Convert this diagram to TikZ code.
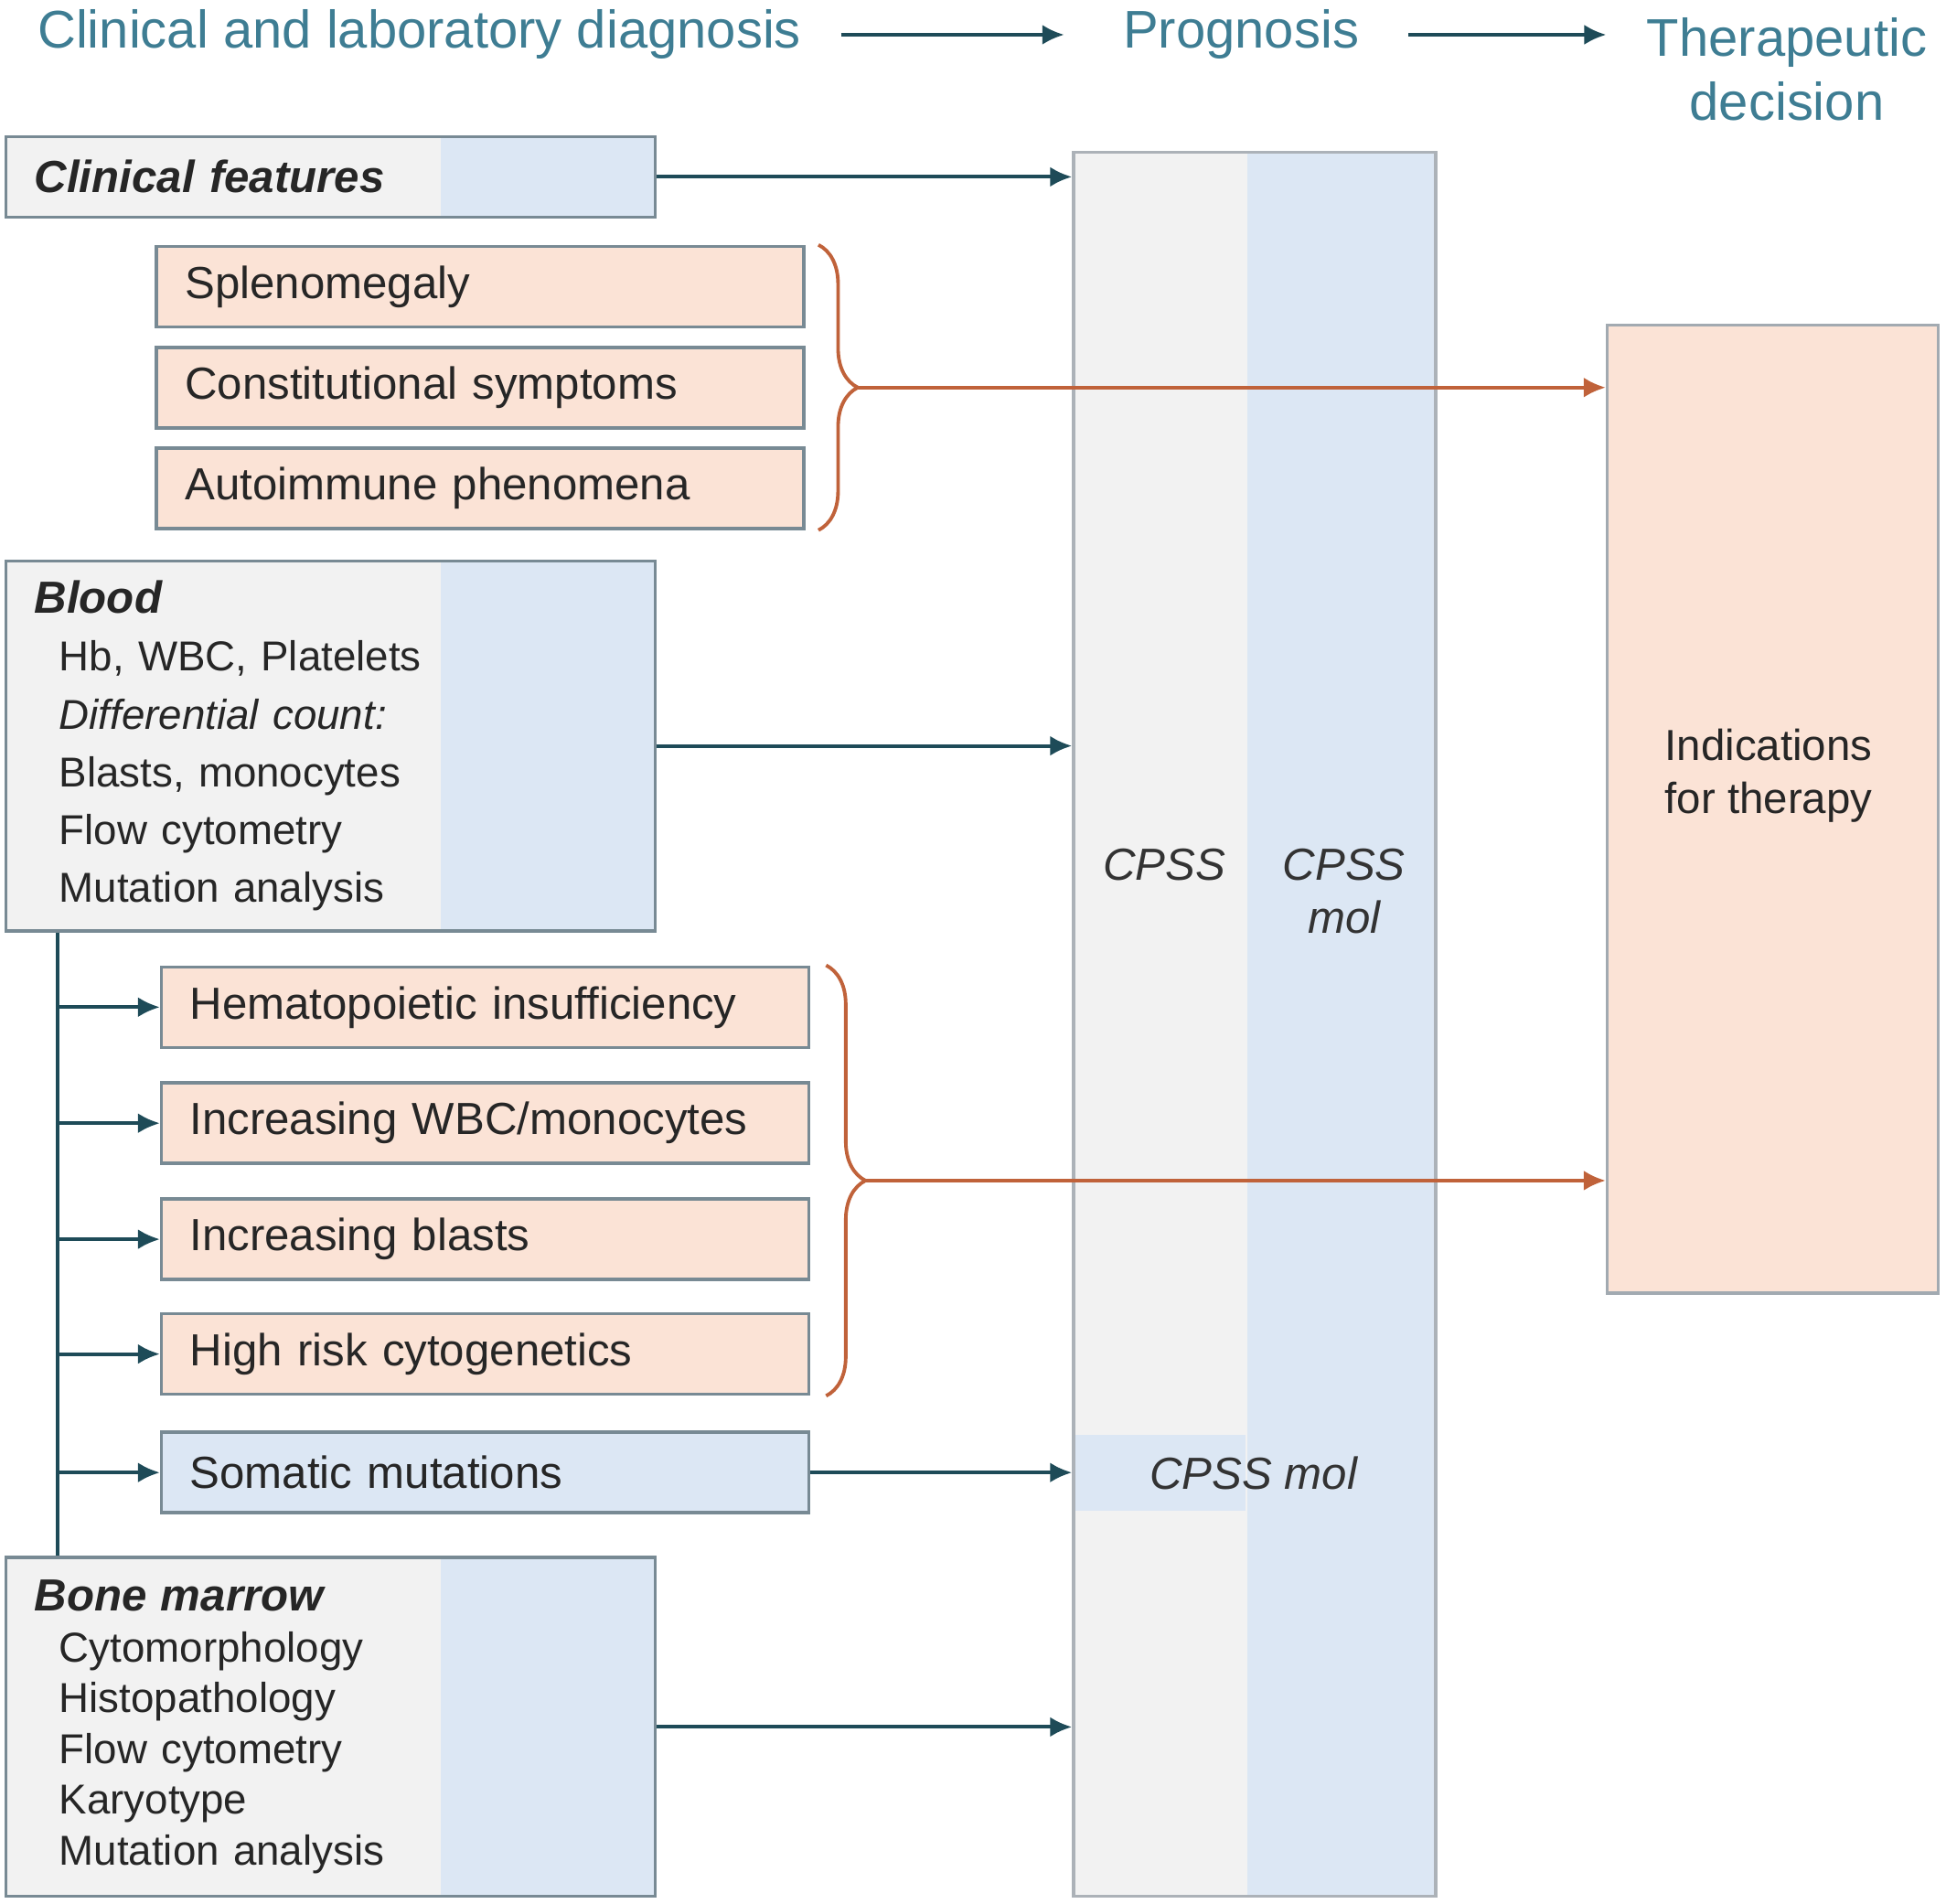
\documentclass[tikz,border=0pt]{standalone}
\usepackage{fontspec}
\setmainfont{Liberation Sans}
\usetikzlibrary{arrows.meta,calc,decorations.pathreplacing}
\definecolor{headc}{RGB}{62,125,147}
\definecolor{arrc}{RGB}{30,75,88}
\definecolor{boxline}{RGB}{120,138,148}
\definecolor{colline}{RGB}{172,178,184}
\definecolor{lgray}{RGB}{242,242,242}
\definecolor{lblue}{RGB}{220,231,244}
\definecolor{peach}{RGB}{251,227,214}
\definecolor{rust}{RGB}{192,98,58}
\newcommand{\boxtitle}[1]{{\fontsize{14}{17}\selectfont\bfseries\itshape #1}}
\begin{document}
\begin{tikzpicture}[
    head/.style={font=\fontsize{16.5}{20}\selectfont, text=headc},
    txt/.style={font=\fontsize{14}{17}\selectfont, text=black!85},
    cps/.style={font=\fontsize{14}{16.5}\selectfont\itshape, text=black!80},
    arr/.style={draw=arrc, line width=1.1pt, -{Latex[length=2.4mm,width=2.2mm]}},
    oarr/.style={draw=rust, line width=1.1pt, -{Latex[length=2.4mm,width=2.2mm]}},
    splitbox/.style={draw=boxline, line width=1pt, fill=lgray, txt, inner xsep=0.31cm, align=left,
        path picture={\fill[lblue] ($(path picture bounding box.south west)!#1!(path picture bounding box.south east)$) rectangle (path picture bounding box.north east);}},
    obox/.style={draw=boxline, line width=1pt, fill=peach, txt, inner xsep=0.31cm, minimum height=0.88cm, text width=6.46cm, align=left},
    bbox/.style={obox, fill=lblue},
    curly/.style={draw=rust, line width=1.1pt, decorate, decoration={brace, amplitude=0.43cm}}
  ]
  \useasboundingbox (0,0) rectangle (21.28,-20.82);

  \node[head] (hdiag) at (4.587,-0.38) {Clinical and laboratory diagnosis};
  \node[head] (hprog) at (13.571,-0.38) {Prognosis};
  \node[head, align=center] (hther) at (19.54,-0.76) {Therapeutic\\decision};
  \draw[arr] ([xshift=0.31cm]hdiag.east) -- ([xshift=-0.52cm]hdiag.east -| hprog.west);
  \draw[arr] ([xshift=0.42cm]hprog.east) -- ([xshift=-0.32cm]hprog.east -| hther.west);

  \node[splitbox=0.48, draw=colline, minimum width=3.96cm, minimum height=19.07cm] (prog) at (13.72,-11.20) {};
  \node[fill=peach, draw=colline!80!boxline, line width=1pt, minimum width=3.62cm, minimum height=10.585cm] (ind) at (19.386,-8.848) {};
  \node[txt, align=center, font=\fontsize{13.5}{16.5}\selectfont] (indtxt) at (19.34,-8.48) {Indications\\for therapy};

  \node[splitbox=0.67, text width=6.48cm, minimum height=0.88cm] (clin) at (3.617,-1.934) {\boxtitle{Clinical features}};
  \node[obox] (spleno) at (5.252,-3.135) {Splenomegaly};
  \node[obox] (const) at (5.252,-4.241) {Constitutional symptoms};
  \node[obox] (auto) at (5.252,-5.340) {Autoimmune phenomena};

  \node[splitbox=0.67, text width=6.48cm, minimum height=4.044cm, font=\fontsize{13}{18}\selectfont] (blood) at (3.617,-8.156) {\boxtitle{Blood}\\
    \hspace*{2.7mm}Hb, WBC, Platelets\\
    \hspace*{2.7mm}\textit{Differential count:}\\
    \hspace*{2.7mm}Blasts, monocytes\\
    \hspace*{2.7mm}Flow cytometry\\
    \hspace*{2.7mm}Mutation analysis};

  \node[obox] (hema) at (5.306,-11.013) {Hematopoietic insufficiency};
  \node[obox] (incw) at (5.306,-12.282) {Increasing WBC/monocytes};
  \node[obox] (incb) at (5.306,-13.551) {Increasing blasts};
  \node[obox] (high) at (5.306,-14.806) {High risk cytogenetics};
  \node[bbox] (soma) at (5.306,-16.102) {Somatic mutations};

  \node[splitbox=0.67, text width=6.48cm, minimum height=3.706cm, font=\fontsize{13}{15.8}\selectfont] (bone) at (3.617,-18.884) {\boxtitle{Bone marrow}\\
    \hspace*{2.7mm}Cytomorphology\\
    \hspace*{2.7mm}Histopathology\\
    \hspace*{2.7mm}Flow cytometry\\
    \hspace*{2.7mm}Karyotype\\
    \hspace*{2.7mm}Mutation analysis};

  \node[fill=lblue, inner sep=0pt, minimum width=1.86cm, minimum height=0.83cm, anchor=west] (band) at ($(prog.west |- soma.east)+(0.03,0)$) {};
  \node[cps] (cpss) at (12.73,-9.459) {CPSS};
  \node[cps, align=center] (cpssmol) at (14.697,-9.75) {CPSS\\mol};
  \node[cps] (molcpss) at (13.707,-16.108) {CPSS mol};

  \draw[arr] (clin.east) -- (clin.east -| prog.west);
  \draw[arr] (blood.east) -- (blood.east -| prog.west);
  \draw[arr] (soma.east) -- (soma.east -| prog.west);
  \draw[arr] (bone.east) -- (bone.east -| prog.west);

  \coordinate (trunk) at ([xshift=0.58cm]blood.south west);
  \draw[draw=arrc, line width=1.1pt] (trunk) -- (trunk |- bone.north);
  \foreach \n in {hema,incw,incb,high,soma}
    \draw[arr] (trunk |- \n.west) -- (\n.west);

  \draw[curly] ([xshift=0.14cm]spleno.north east) -- ([xshift=0.14cm]auto.south east);
  \coordinate (tip1) at ($(spleno.north east)!0.5!(auto.south east)+(0.57,0)$);
  \draw[oarr] (tip1) -- (tip1 -| ind.west);

  \draw[curly] ([xshift=0.17cm]hema.north east) -- ([xshift=0.17cm]high.south east);
  \coordinate (tip2) at ($(hema.north east)!0.5!(high.south east)+(0.60,0)$);
  \draw[oarr] (tip2) -- (tip2 -| ind.west);
\end{tikzpicture}
\end{document}
